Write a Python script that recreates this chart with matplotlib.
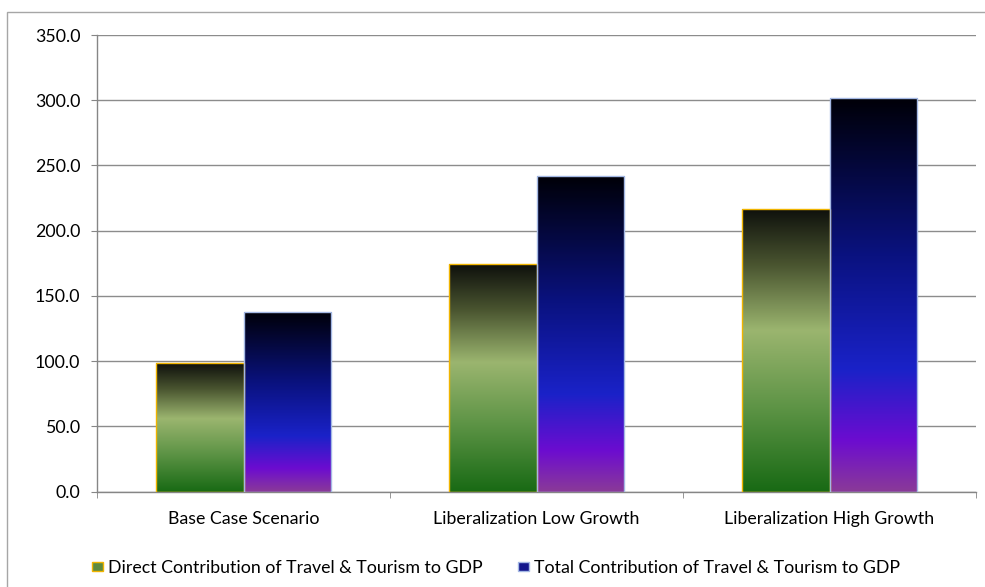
import numpy as np
import matplotlib
matplotlib.use("Agg")
import matplotlib.pyplot as plt
from matplotlib.colors import LinearSegmentedColormap
from matplotlib.patches import Patch, Rectangle

# -------------------------
# DATA
# -------------------------
categories = ["Base Case Scenario", "Liberalization Low Growth", "Liberalization High Growth"]
direct_gdp = [98.5, 174.5, 217.0]
total_gdp = [138.0, 242.0, 302.0]
series_names = ["Direct Contribution of Travel & Tourism to GDP",
                "Total Contribution of Travel & Tourism to GDP"]
y_ticks = [0, 50, 100, 150, 200, 250, 300, 350]

# gradients, bottom -> top
green_cmap = LinearSegmentedColormap.from_list("green_grad", [
    (0.00, "#186a14"), (0.30, "#5e9446"), (0.57, "#9bb56f"),
    (0.80, "#4a5530"), (1.00, "#0e100c")])
blue_cmap = LinearSegmentedColormap.from_list("blue_grad", [
    (0.00, "#8a3a98"), (0.13, "#6c0cd0"), (0.31, "#1a22c8"),
    (0.60, "#0a1280"), (1.00, "#000008")])

plt.rcParams['font.family'] = ['Lato', 'DejaVu Sans']
FS = 12.8

fig = plt.figure(figsize=(9.85, 5.87), dpi=100)
ax = fig.add_axes([97 / 985, 1 - 491.6 / 587, (976 - 97) / 985, (491.6 - 35) / 587])

x = np.arange(len(categories))
width = 0.3
grad = np.linspace(0, 1, 256).reshape(-1, 1)


def gradient_bars(xpos, values, cmap, edge):
    bars = ax.bar(xpos, values, width, facecolor="none", edgecolor=edge,
                  linewidth=1.0, zorder=3)
    for b in bars:
        x0, y0 = b.get_x(), b.get_y()
        im = ax.imshow(grad, cmap=cmap, origin="lower", aspect="auto",
                       extent=[x0, x0 + b.get_width(), y0, y0 + b.get_height()],
                       zorder=2, interpolation="bilinear")
        im.set_clip_path(b)
    return bars


gradient_bars(x - width / 2, direct_gdp, green_cmap, "#f0b400")
gradient_bars(x + width / 2, total_gdp, blue_cmap, "#a4b8e4")

ax.set_xlim(-0.5, 2.5)
ax.set_ylim(0, 350)
ax.set_yticks(y_ticks)
ax.set_yticklabels([f"{v:.1f}" for v in y_ticks], fontsize=FS)
ax.set_xticks(x)
ax.set_xticklabels(categories, fontsize=FS)
ax.set_xticks([-0.5, 0.5, 1.5, 2.5], minor=True)
ax.tick_params(axis="x", which="major", length=0, pad=14)
ax.tick_params(axis="x", which="minor", length=4, color="#868686", direction="out")
ax.tick_params(axis="y", length=4, color="#868686", pad=8)
ax.yaxis.grid(True, color="#8c8c8c", linewidth=1.0, zorder=0)
ax.set_axisbelow(True)
for s in ["top", "right"]:
    ax.spines[s].set_visible(False)
for s in ["left", "bottom"]:
    ax.spines[s].set_color("#868686")
    ax.spines[s].set_linewidth(1.0)

# legend
handles = [Patch(facecolor="#5e8a40", edgecolor="#f0b400", label=series_names[0]),
           Patch(facecolor="#12168c", edgecolor="#a4b8e4", label=series_names[1])]
fig.legend(handles=handles, loc="center", bbox_to_anchor=(496 / 985, 1 - 568 / 587),
           ncol=2, frameon=False, fontsize=FS, handlelength=0.6, handleheight=0.45,
           handletextpad=0.3, columnspacing=2.0)

# outer chart border
fig.patches.append(Rectangle((7 / 985, -0.05), 1.1, 1 - 12 / 587 + 0.05,
                             transform=fig.transFigure, fill=False,
                             edgecolor="#a6a6a6", linewidth=1.0))

fig.savefig("out.png", dpi=100)
